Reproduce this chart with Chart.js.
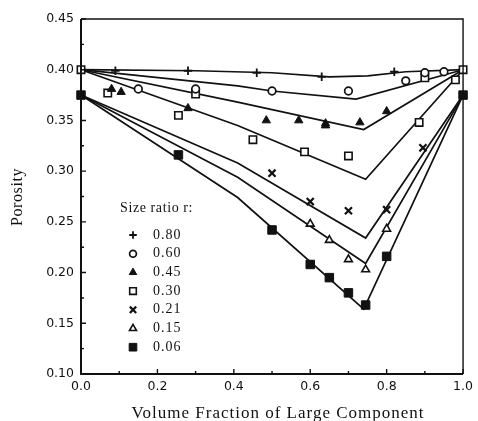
<!DOCTYPE html>
<html>
<head>
<meta charset="utf-8">
<script src="https://cdn.jsdelivr.net/npm/chart.js@4"></script>
<style>
    html, body { margin: 0; padding: 0; background: #fff; }
    #grafico { display: block; }
</style>
</head>
<body>
<canvas id="grafico" width="478" height="421"></canvas>
<script>
// 1. DATOS (fraccion de componente grande vs porosidad)
const ticksX = [0.0, 0.2, 0.4, 0.6, 0.8, 1.0];
const ticksY = [0.10, 0.15, 0.20, 0.25, 0.30, 0.35, 0.40, 0.45];
const etiquetasLeyenda = ['0.80', '0.60', '0.45', '0.30', '0.21', '0.15', '0.06'];

// puntos experimentales
const r080X = [0.09, 0.28, 0.46, 0.63, 0.82];
const r080Y = [0.399, 0.399, 0.397, 0.393, 0.398];
const r060X = [0.15, 0.30, 0.50, 0.70, 0.85, 0.90, 0.95];
const r060Y = [0.381, 0.381, 0.379, 0.379, 0.389, 0.397, 0.398];
const r045X = [0.08, 0.105, 0.28, 0.485, 0.57, 0.64, 0.64, 0.73, 0.80];
const r045Y = [0.381, 0.378, 0.362, 0.350, 0.350, 0.347, 0.345, 0.348, 0.359];
const r030X = [0.0, 0.07, 0.255, 0.30, 0.45, 0.585, 0.70, 0.885, 0.90, 0.98, 1.0];
const r030Y = [0.400, 0.377, 0.355, 0.376, 0.331, 0.319, 0.315, 0.348, 0.392, 0.390, 0.400];
const r021X = [0.50, 0.60, 0.70, 0.80, 0.895];
const r021Y = [0.298, 0.270, 0.261, 0.262, 0.323];
const r015X = [0.60, 0.65, 0.70, 0.745, 0.80];
const r015Y = [0.248, 0.232, 0.213, 0.203, 0.243];
const r006X = [0.0, 0.255, 0.50, 0.60, 0.65, 0.70, 0.745, 0.80, 1.0];
const r006Y = [0.375, 0.316, 0.242, 0.208, 0.195, 0.180, 0.168, 0.216, 0.375];

// curvas del modelo
const c080X = [0.0, 0.30, 0.50, 0.65, 0.75, 0.85, 1.0];
const c080Y = [0.400, 0.399, 0.397, 0.393, 0.394, 0.398, 0.400];
const c060X = [0.0, 0.41, 0.50, 0.72, 1.0];
const c060Y = [0.400, 0.384, 0.379, 0.371, 0.400];
const c045X = [0.0, 0.41, 0.74, 1.0];
const c045Y = [0.400, 0.368, 0.341, 0.400];
const c030X = [0.0, 0.41, 0.745, 1.0];
const c030Y = [0.400, 0.345, 0.292, 0.400];
const c021X = [0.0, 0.41, 0.745, 1.0];
const c021Y = [0.375, 0.308, 0.234, 0.375];
const c015X = [0.0, 0.41, 0.745, 1.0];
const c015Y = [0.375, 0.294, 0.209, 0.375];
const c006X = [0.0, 0.41, 0.74, 1.0];
const c006Y = [0.375, 0.274, 0.164, 0.375];

const NEGRO = '#111';

function pares(xs, ys) {
    return xs.map((x, i) => ({ x: x, y: ys[i] }));
}

// 2. ESTILOS DE LOS MARCADORES (mismo orden que la leyenda)
const marcadores = [
    { datos: pares(r080X, r080Y), estilo: 'cross',    radio: 4.2, relleno: NEGRO,  borde: 1.8 },
    { datos: pares(r060X, r060Y), estilo: 'circle',   radio: 3.8, relleno: '#fff', borde: 1.7 },
    { datos: pares(r045X, r045Y), estilo: 'triangle', radio: 4.8, relleno: NEGRO,  borde: 1 },
    { datos: pares(r030X, r030Y), estilo: 'rect',     radio: 5.2, relleno: '#fff', borde: 1.6 },
    { datos: pares(r021X, r021Y), estilo: 'crossRot', radio: 5,   relleno: NEGRO,  borde: 2.2 },
    { datos: pares(r015X, r015Y), estilo: 'triangle', radio: 4.5, relleno: '#fff', borde: 1.6 },
    { datos: pares(r006X, r006Y), estilo: 'rect',     radio: 6,   relleno: NEGRO,  borde: 1 }
];

const curvas = [
    pares(c080X, c080Y), pares(c060X, c060Y), pares(c045X, c045Y), pares(c030X, c030Y),
    pares(c021X, c021Y), pares(c015X, c015Y), pares(c006X, c006Y)
];

let datasets = [];
marcadores.forEach((m, i) => {
    datasets.push({
        label: etiquetasLeyenda[i],
        data: m.datos,
        showLine: false,
        pointStyle: m.estilo,
        pointRadius: m.radio,
        pointHoverRadius: m.radio,
        pointBackgroundColor: m.relleno,
        pointBorderColor: NEGRO,
        pointBorderWidth: m.borde,
        clip: false
    });
});
curvas.forEach(c => {
    datasets.push({
        label: '',
        data: c,
        showLine: true,
        borderColor: NEGRO,
        borderWidth: 1.7,
        pointRadius: 0,
        tension: 0,
        clip: false
    });
});

// 3. PLUGIN: MARCO, TICKS HACIA DENTRO, TITULOS Y LEYENDA
function texto(ctx, t, x, y, fuente, espacio, alin) {
    ctx.font = fuente;
    ctx.letterSpacing = espacio || '0px';
    ctx.textAlign = alin || 'left';
    ctx.textBaseline = 'middle';
    ctx.fillText(t, x, y);
}

const decoracion = {
    id: 'decoracion',
    afterDraw(chart) {
        const { ctx, chartArea: a, scales: { x, y } } = chart;
        ctx.save();
        ctx.strokeStyle = NEGRO;
        ctx.fillStyle = NEGRO;

        // marco
        ctx.lineWidth = 1.4;
        ctx.beginPath();
        ctx.moveTo(a.left, a.top); ctx.lineTo(a.right, a.top); ctx.lineTo(a.right, a.bottom);
        ctx.stroke();
        ctx.lineWidth = 2;
        ctx.beginPath();
        ctx.moveTo(a.left, a.top); ctx.lineTo(a.left, a.bottom); ctx.lineTo(a.right, a.bottom);
        ctx.stroke();

        // ticks mayores y menores
        ctx.lineWidth = 1.4;
        ctx.beginPath();
        for (let i = 0; i < ticksY.length; i++) {
            let py = y.getPixelForValue(ticksY[i]);
            ctx.moveTo(a.left, py); ctx.lineTo(a.left + 5, py);
            if (i < ticksY.length - 1) {
                let pm = y.getPixelForValue((ticksY[i] + ticksY[i + 1]) / 2);
                ctx.moveTo(a.left, pm); ctx.lineTo(a.left + 3, pm);
            }
        }
        for (let i = 0; i < ticksX.length; i++) {
            let px = x.getPixelForValue(ticksX[i]);
            ctx.moveTo(px, a.bottom); ctx.lineTo(px, a.bottom - 5);
            if (i < ticksX.length - 1) {
                let pm = x.getPixelForValue((ticksX[i] + ticksX[i + 1]) / 2);
                ctx.moveTo(pm, a.bottom); ctx.lineTo(pm, a.bottom - 3);
            }
        }
        ctx.stroke();

        // titulos de ejes
        texto(ctx, 'Volume Fraction of Large Component', 278, 414,
              '17px "Liberation Serif"', '1px', 'center');
        ctx.save();
        ctx.translate(18, 197);
        ctx.rotate(-Math.PI / 2);
        texto(ctx, 'Porosity', 0, 0, '16px "Liberation Serif"', '0.6px', 'center');
        ctx.restore();

        // leyenda dentro del grafico
        texto(ctx, 'Size ratio r:', 120, 208, '14px "Liberation Serif"', '0.6px', 'left');
        marcadores.forEach((m, i) => {
            let fy = 235 + i * 18.7;
            ctx.fillStyle = m.relleno;
            ctx.strokeStyle = NEGRO;
            ctx.lineWidth = m.borde;
            Chart.helpers.drawPoint(ctx, { pointStyle: m.estilo, radius: m.radio * 0.9, borderWidth: m.borde, rotation: 0 }, 133, fy);
            ctx.fillStyle = NEGRO;
            texto(ctx, etiquetasLeyenda[i], 153, fy, '14px "Liberation Serif"', '1px', 'left');
        });
        ctx.restore();
    }
};

// 4. DIBUJAR EL GRAFICO
const ctx = document.getElementById('grafico').getContext('2d');
new Chart(ctx, {
    type: 'scatter',
    data: { datasets: datasets },
    options: {
        responsive: false,
        animation: false,
        devicePixelRatio: 1,
        layout: { padding: { left: 0, right: 10, top: 19, bottom: 0 } },
        plugins: {
            legend: { display: false },
            tooltip: { enabled: false }
        },
        scales: {
            x: {
                type: 'linear',
                min: 0,
                max: 1,
                afterBuildTicks: s => { s.ticks = ticksX.map(v => ({ value: v })); },
                afterFit: s => { s.height = 47; },
                grid: { display: false, drawTicks: false },
                border: { display: false },
                ticks: {
                    autoSkip: false,
                    maxRotation: 0,
                    padding: 5,
                    color: '#111',
                    font: { family: 'DejaVu Sans', size: 12.5 },
                    callback: v => Number(v).toFixed(1)
                }
            },
            y: {
                type: 'linear',
                min: 0.10,
                max: 0.45,
                afterBuildTicks: s => { s.ticks = ticksY.map(v => ({ value: v })); },
                afterFit: s => { s.width = 81; },
                grid: { display: false, drawTicks: false },
                border: { display: false },
                ticks: {
                    padding: 7,
                    color: '#111',
                    font: { family: 'DejaVu Sans', size: 12.5 },
                    callback: v => Number(v).toFixed(2)
                }
            }
        }
    },
    plugins: [decoracion]
});
</script>
</body>
</html>
